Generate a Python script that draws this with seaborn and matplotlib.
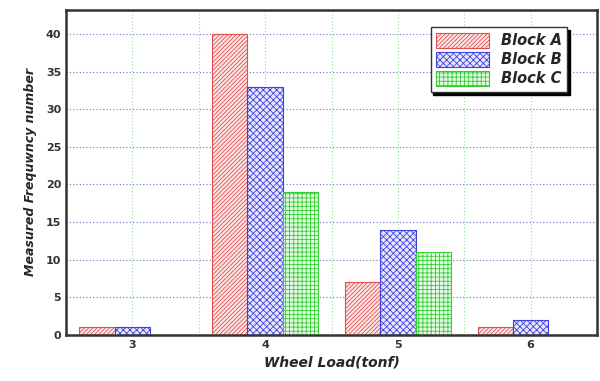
import matplotlib
matplotlib.use("Agg")
import matplotlib.pyplot as plt
import seaborn as sns
import pandas as pd

loads = ["3", "4", "5", "6"]
block_a = [1, 40, 7, 1]
block_b = [1, 33, 14, 2]
block_c = [0, 19, 11, 0]
series_names = ["Block A", "Block B", "Block C"]
y_ticks = [0, 5, 10, 15, 20, 25, 30, 35, 40]

df = pd.DataFrame({
    "load": loads * 3,
    "value": block_a + block_b + block_c,
    "block": [series_names[0]] * 4 + [series_names[1]] * 4 + [series_names[2]] * 4,
})

sns.set_style("white")
plt.rcParams["hatch.linewidth"] = 0.6
plt.rcParams["font.family"] = ["DejaVu Sans"]

fig = plt.figure(figsize=(6.0, 3.81), dpi=100)
ax = fig.add_axes([0.11, 0.121, 0.885, 0.853])

sns.barplot(data=df, x="load", y="value", hue="block", order=loads,
            hue_order=series_names, width=0.8, ax=ax, legend=False, errorbar=None)

styles = [
    dict(edge="#e05050", face="#fde6e6", hatch="////////"),
    dict(edge="#4040e0", face="#e6e6fd", hatch="xxxxx"),
    dict(edge="#30d030", face="#e6fbe6", hatch="++++"),
]
for cont, st in zip(ax.containers, styles):
    for p in cont:
        p.set_facecolor(st["face"])
        p.set_edgecolor(st["edge"])
        p.set_hatch(st["hatch"])
        p.set_linewidth(0.8)

ax.set_xlim(-0.5, 3.5)
ax.set_ylim(0, 43.2)
ax.set_yticks(y_ticks)
ax.set_xticks(range(len(loads)))
ax.set_xticklabels(loads)

for yv in y_ticks[1:]:
    ax.axhline(yv, color="#7070c0", linestyle=(0, (1, 2)), linewidth=0.8, zorder=0)
for xv in [-0.5 + 0.5 * i for i in range(1, 8)]:
    ax.axvline(xv, color="#90e090", linestyle=(0, (1, 2)), linewidth=0.8, zorder=0)

for s in ax.spines.values():
    s.set_linewidth(1.8)
    s.set_color("#333333")

ax.tick_params(axis="both", direction="in", length=4, width=1.2, labelsize=8, colors="#333333")
for lab in ax.get_xticklabels() + ax.get_yticklabels():
    lab.set_fontweight("bold")

ax.set_xlabel("Wheel Load(tonf)", fontsize=10, fontweight="bold", fontstyle="italic", labelpad=4)
ax.set_ylabel("Measured Frequwncy number", fontsize=9, fontweight="bold", fontstyle="italic", labelpad=6)

handles = [ax.containers[i].patches[1] for i in range(3)]
leg = ax.legend(handles, series_names, loc="upper right", bbox_to_anchor=(0.958, 0.97),
                frameon=True, shadow=dict(color="black", alpha=1.0), fancybox=False,
                prop=dict(weight="bold", style="italic", size=10.5),
                handlelength=3.6, handleheight=1.2, borderpad=0.4, labelspacing=0.25)
leg.get_frame().set_edgecolor("#333333")
leg.get_frame().set_linewidth(1.0)

fig.savefig("out.png", dpi=100)
